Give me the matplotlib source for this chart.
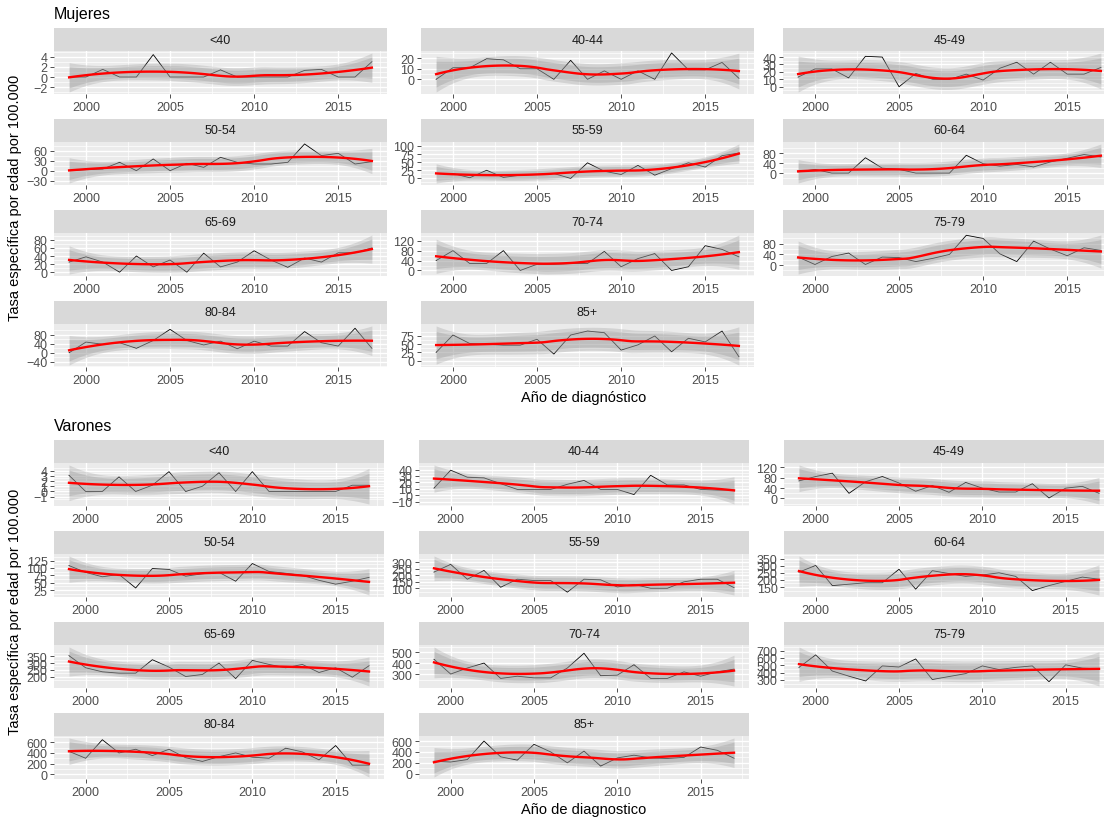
import numpy as np
import matplotlib
matplotlib.use("Agg")
import matplotlib.pyplot as plt

plt.rcParams['font.family'] = ['Liberation Sans', 'DejaVu Sans']

# -------------------------------
# datos
# -------------------------------
years = np.arange(1999, 2018)
grupos = ["<40", "40-44", "45-49", "50-54", "55-59", "60-64",
          "65-69", "70-74", "75-79", "80-84", "85+"]

# Mujeres
m_lt40 = [0.0, 0.0, 1.5, 0.0, 0.0, 4.4, 0.0, 0.0, 0.0, 1.4, 0.0, 0.0, 0.0, 0.0, 1.3, 1.5, 0.0, 0.0, 3.0]
m_4044 = [0, 11, 11, 19.5, 18.5, 10, 10, 0, 18, 0, 8, 0, 8, 0, 25, 9, 9, 16, 1]
m_4549 = [13, 24, 24, 12, 41, 40, 0, 18, 10, 10, 17, 9, 25, 33, 17, 33, 17, 17, 26]
m_5054 = [0, 3, 5, 25, 0, 35, 0, 22, 10, 40, 25, 20, 20, 25, 80, 45, 52, 20, 27]
m_5559 = [15, 15, 2, 25, 3, 10, 12, 15, 0, 48, 22, 12, 40, 10, 30, 48, 35, 70, 78]
m_6064 = [5, 15, 0, 0, 62, 20, 15, 0, 0, 0, 72, 38, 28, 35, 25, 45, 60, 75, 65]
m_6569 = [25, 38, 25, 0, 40, 13, 30, 0, 47, 13, 25, 53, 30, 12, 35, 25, 48, 48, 60]
m_7074 = [40, 80, 28, 28, 80, 0, 25, 25, 28, 28, 77, 15, 48, 68, 0, 15, 100, 85, 55]
m_7579 = [30, 2, 32, 45, 2, 30, 28, 13, 25, 40, 112, 100, 42, 13, 90, 60, 35, 65, 55]
m_8084 = [0, 48, 38, 45, 20, 55, 105, 55, 35, 52, 18, 52, 30, 30, 95, 45, 30, 110, 20]
m_85 = [25, 78, 52, 50, 47, 47, 65, 20, 78, 90, 85, 32, 48, 75, 27, 68, 57, 90, 12]

# Varones
v_lt40 = [3.1, 0, 0, 2.8, 0, 1.2, 3.8, 0, 1.0, 3.6, 0, 3.8, 0, 0, 0, 0, 0, 1.2, 1.2]
v_4044 = [11, 39, 28, 27, 18, 9, 9, 9, 17, 23, 9, 9, 1, 31, 16, 16, 9, 8, 8]
v_4549 = [68, 85, 98, 20, 65, 85, 60, 28, 50, 24, 62, 40, 25, 25, 57, 2, 40, 47, 20]
v_5054 = [108, 85, 70, 78, 32, 98, 95, 72, 80, 85, 55, 115, 88, 82, 75, 58, 45, 55, 68]
v_5559 = [225, 285, 170, 238, 108, 170, 160, 160, 70, 170, 165, 110, 130, 100, 100, 150, 170, 170, 105]
v_6064 = [255, 302, 160, 170, 180, 180, 275, 135, 265, 245, 225, 235, 250, 225, 125, 160, 190, 220, 205]
v_6569 = [355, 265, 235, 225, 225, 325, 270, 200, 215, 300, 185, 320, 290, 265, 290, 230, 265, 195, 280]
v_7074 = [435, 300, 355, 400, 260, 280, 265, 265, 355, 490, 285, 290, 385, 260, 260, 320, 280, 320, 345]
v_7579 = [470, 640, 420, 350, 285, 490, 475, 585, 305, 345, 385, 490, 440, 470, 490, 275, 505, 460, 450]
v_8084 = [430, 300, 650, 400, 470, 350, 470, 310, 240, 330, 400, 320, 300, 490, 420, 270, 540, 170, 170]
v_85 = [230, 215, 260, 600, 310, 250, 540, 400, 200, 415, 140, 290, 340, 290, 280, 300, 490, 430, 285]

mujeres = [m_lt40, m_4044, m_4549, m_5054, m_5559, m_6064, m_6569, m_7074, m_7579, m_8084, m_85]
varones = [v_lt40, v_4044, v_4549, v_5054, v_5559, v_6064, v_6569, v_7074, v_7579, v_8084, v_85]

# marcas del eje y de cada faceta
yt_muj = [[-2, 0, 2, 4], [0, 10, 20], [0, 10, 20, 30, 40], [-30, 0, 30, 60],
          [0, 25, 50, 75, 100], [0, 40, 80], [0, 20, 40, 60, 80], [0, 40, 80, 120],
          [0, 40, 80], [-40, 0, 40, 80], [0, 25, 50, 75]]
yt_var = [[-1, 0, 1, 2, 3, 4], [-10, 0, 10, 20, 30, 40], [0, 40, 80, 120],
          [25, 50, 75, 100, 125], [100, 150, 200, 250, 300], [150, 200, 250, 300, 350],
          [200, 250, 300, 350], [300, 400, 500], [300, 400, 500, 600, 700],
          [0, 200, 400, 600], [0, 200, 400, 600]]


# -------------------------------
# loess (como geom_smooth)
# -------------------------------
def loess(x, y, xg, span=0.75):
    n = len(x)
    q = int(np.floor(n * span))

    def rows(pts):
        L = np.zeros((len(pts), n))
        for i, x0 in enumerate(pts):
            d = np.abs(x - x0)
            ds = np.sort(d)
            h = (ds[q - 1] + ds[q]) / 2
            u = np.clip(d / h, 0, 1)
            w = (1 - u ** 3) ** 3
            X = np.column_stack([np.ones(n), x - x0, (x - x0) ** 2])
            XtW = X.T * w
            L[i] = np.linalg.solve(XtW @ X, XtW)[0]
        return L

    Ld = rows(x)
    Lg = rows(xg)
    M = np.eye(n) - Ld
    A = M.T @ M
    d1 = np.trace(A)
    d2 = np.trace(A @ A)
    res = y - Ld @ y
    s = np.sqrt(np.sum(res ** 2) / d1)
    fit = Lg @ y
    se = s * np.sqrt(np.sum(Lg ** 2, axis=1))
    return fit, se, d1 ** 2 / d2


def tq(z, df):
    g1 = (z ** 3 + z) / 4
    g2 = (5 * z ** 5 + 16 * z ** 3 + 3 * z) / 96
    g3 = (3 * z ** 7 + 19 * z ** 5 + 17 * z ** 3 - 15 * z) / 384
    return z + g1 / df + g2 / df ** 2 + g3 / df ** 3


# -------------------------------
# figura
# -------------------------------
W, H = 1104, 820
fig = plt.figure(figsize=(W / 100, H / 100), dpi=100)
fig.patch.set_facecolor("white")

xg = np.linspace(1999, 2017, 80)
strip_h = 23
panel_h = 43


def seccion(datos, yticks, titulo, xlab, tops, lefts, width, ylab_y):
    for k, (g, vals, yt) in enumerate(zip(grupos, datos, yticks)):
        r, c = divmod(k, 3)
        top = tops[r]
        left = lefts[c]
        y = np.array(vals, dtype=float)
        fit, se, df = loess(years.astype(float), y, xg)
        t95 = tq(1.959964, df)
        t99 = tq(2.575829, df)
        lo1, hi1 = fit - t99 * se, fit + t99 * se
        lo2, hi2 = fit - t95 * se, fit + t95 * se

        ax = fig.add_axes([left / W, 1 - (top + strip_h + panel_h) / H,
                           width / W, panel_h / H])
        ax.set_facecolor("#EBEBEB")
        for sp in ax.spines.values():
            sp.set_visible(False)
        ax.plot(years, y, color="black", lw=0.6, zorder=2)
        ax.fill_between(xg, lo1, hi1, color="#999999", alpha=0.3, lw=0, zorder=3)
        ax.fill_between(xg, lo2, hi2, color="#999999", alpha=0.35, lw=0, zorder=3)
        ax.plot(xg, fit, color="red", lw=1.7, zorder=4)

        ymin = min(y.min(), lo1.min())
        ymax = max(y.max(), hi1.max())
        rng = ymax - ymin

        ax.set_xticks([2000, 2005, 2010, 2015])
        ax.set_xticks([1997.5, 2002.5, 2007.5, 2012.5, 2017.5], minor=True)
        step = yt[1] - yt[0]
        ax.set_yticks(yt)
        ax.set_yticks([yt[0] - step / 2] + [v + step / 2 for v in yt], minor=True)
        ax.set_xlim(1998.1, 2017.9)
        ax.set_ylim(ymin - 0.05 * rng, ymax + 0.05 * rng)
        ax.grid(which="major", color="white", lw=1.0, zorder=0)
        ax.grid(which="minor", color="white", lw=0.5, zorder=0)
        ax.set_axisbelow(True)
        ax.tick_params(which="major", length=2.7, width=0.6, color="#333333",
                       labelsize=9, labelcolor="#4D4D4D", pad=2)
        ax.tick_params(which="minor", length=0)

        sax = fig.add_axes([left / W, 1 - (top + strip_h) / H, width / W, strip_h / H])
        sax.set_facecolor("#D9D9D9")
        sax.set_xticks([])
        sax.set_yticks([])
        for sp in sax.spines.values():
            sp.set_visible(False)
        sax.text(0.5, 0.5, g, ha="center", va="center", fontsize=9,
                 color="#1A1A1A", transform=sax.transAxes)

    fig.text(54 / W, 1 - (tops[0] - 14) / H, titulo, fontsize=11.5,
             ha="left", va="center", color="black")
    fig.text(584 / W, 1 - (tops[3] + strip_h + panel_h + 30) / H, xlab,
             fontsize=10.5, ha="center", va="center", color="black")
    fig.text(15 / W, 1 - ylab_y / H, "Tasa específica por edad por 100.000",
             rotation=90, fontsize=10.5, ha="center", va="center", color="black")


seccion(mujeres, yt_muj, "Mujeres", "Año de diagnóstico",
        [29, 120, 211, 302], [54, 421, 783], 333, 198)
seccion(varones, yt_var, "Varones", "Año de diagnostico",
        [441, 532, 623, 714], [54, 419, 784], 330, 612)

plt.savefig("out.png", dpi=100)
